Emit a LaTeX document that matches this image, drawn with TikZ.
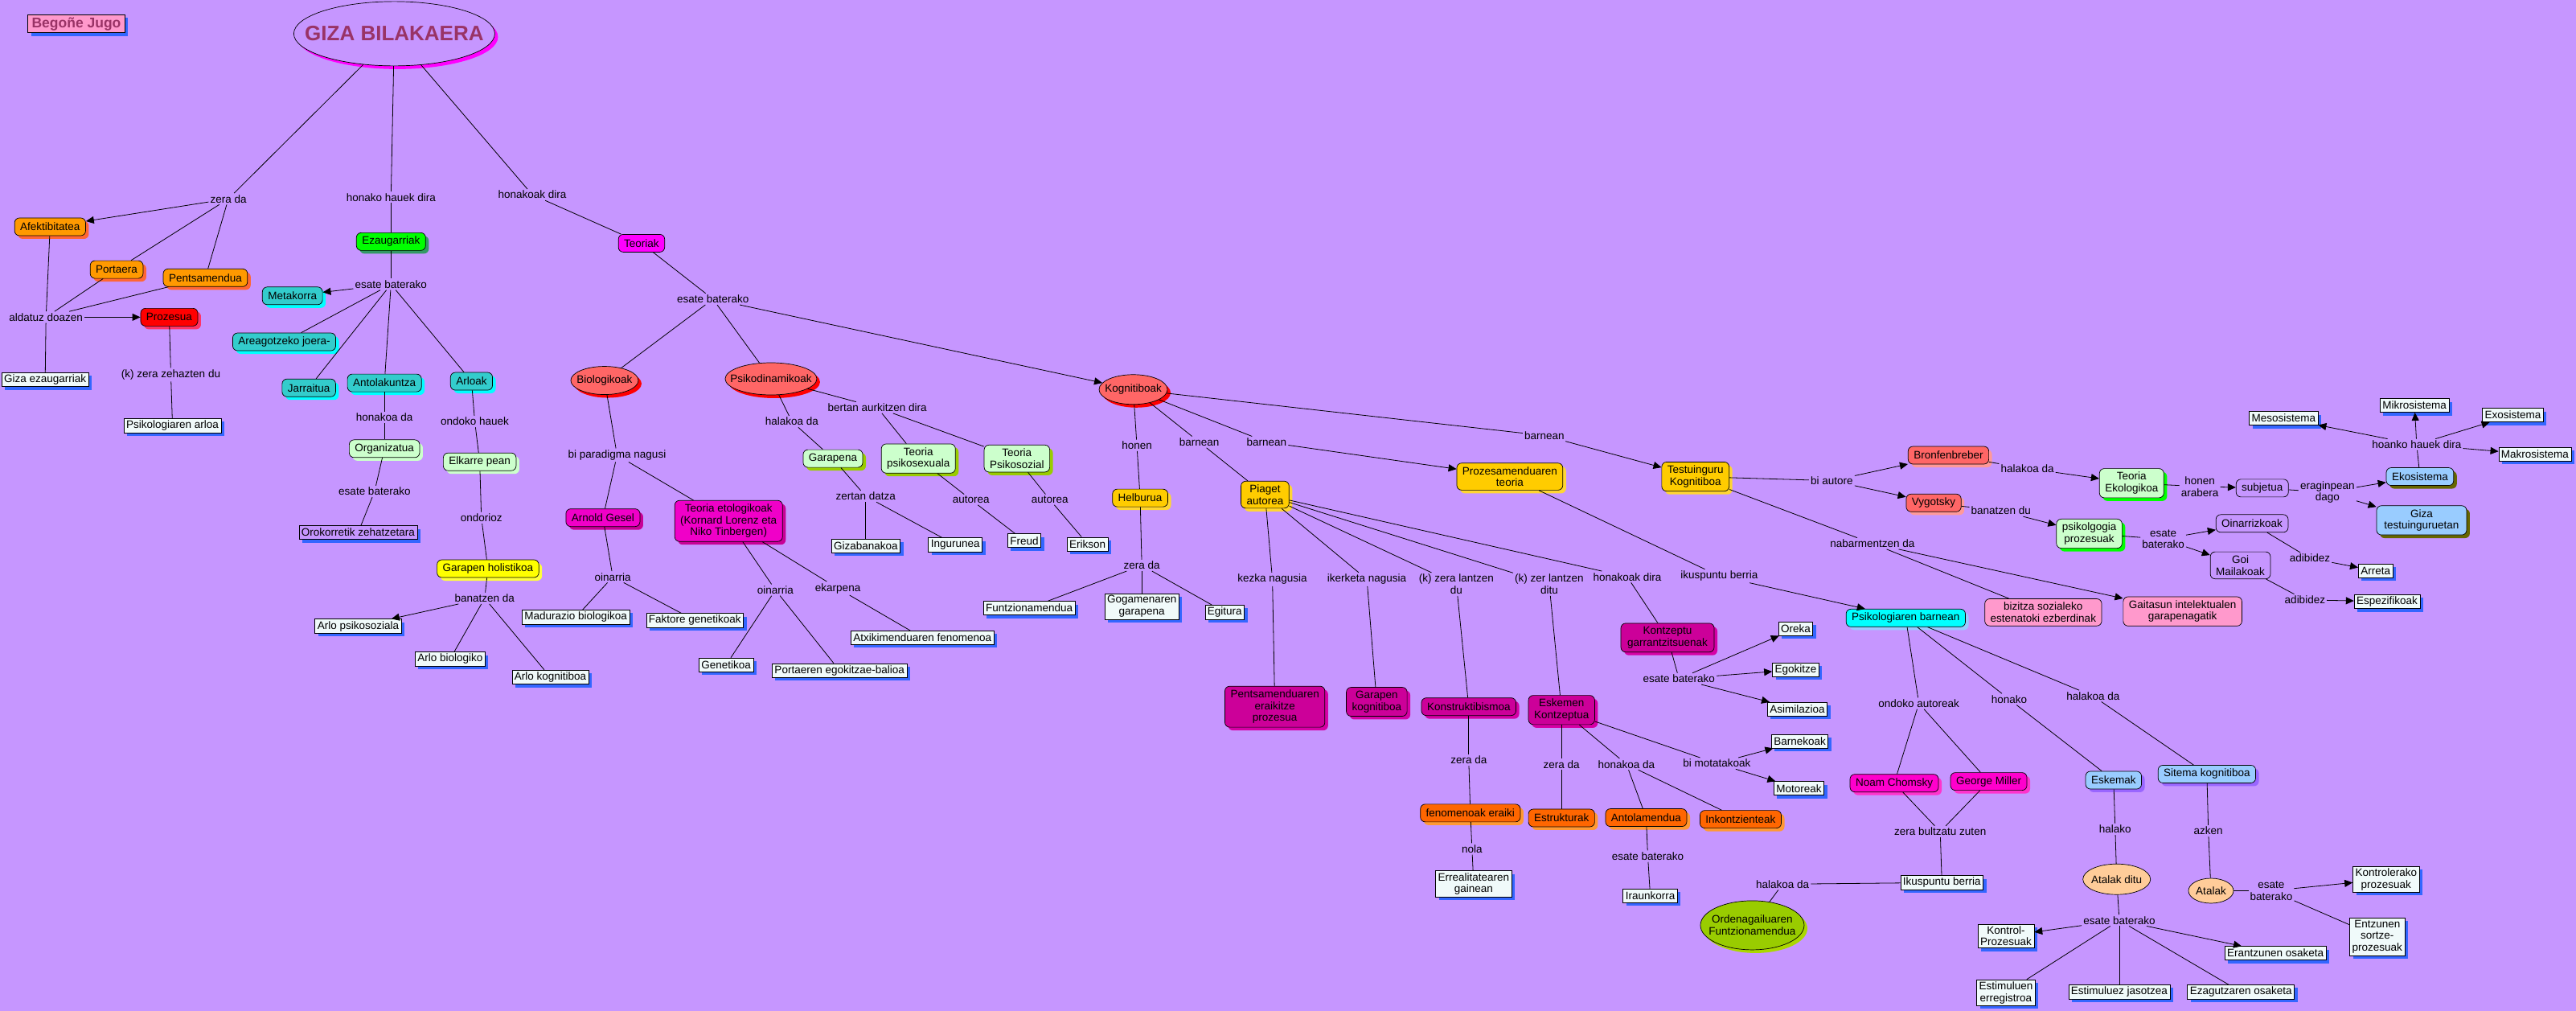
\documentclass[tikz,border=0pt]{standalone}
\usepackage{fontspec}
\setmainfont{Liberation Sans}
\usepackage{xcolor}
\usetikzlibrary{shapes.geometric,shadows,arrows.meta}

\definecolor{bgc}{RGB}{198,150,255}
\definecolor{titlec}{RGB}{153,51,102}
\definecolor{leaffill}{RGB}{240,250,250}
\definecolor{shblue}{RGB}{51,102,255}
\definecolor{orangec}{RGB}{255,153,0}
\definecolor{orangesh}{RGB}{255,102,51}
\definecolor{redc}{RGB}{255,0,0}
\definecolor{redsh}{RGB}{255,51,102}
\definecolor{greenc}{RGB}{0,255,0}
\definecolor{greensh}{RGB}{51,153,102}
\definecolor{tealc}{RGB}{51,204,204}
\definecolor{tealsh}{RGB}{0,255,255}
\definecolor{mintc}{RGB}{204,255,204}
\definecolor{yellowc}{RGB}{255,255,0}
\definecolor{yellowsh}{RGB}{255,255,60}
\definecolor{magc}{RGB}{255,0,255}
\definecolor{salmonc}{RGB}{255,102,102}
\definecolor{salmonsh}{RGB}{255,153,153}
\definecolor{pinkmag}{RGB}{240,0,200}
\definecolor{pinkmagsh}{RGB}{200,0,150}
\definecolor{limec}{RGB}{153,204,0}
\definecolor{limesh}{RGB}{170,215,0}
\definecolor{goldc}{RGB}{255,204,0}
\definecolor{goldsh}{RGB}{255,214,51}
\definecolor{plumc}{RGB}{204,0,153}
\definecolor{plumsh}{RGB}{214,0,165}
\definecolor{darkorc}{RGB}{255,102,0}
\definecolor{darkorsh}{RGB}{255,153,51}
\definecolor{cyanc}{RGB}{0,255,255}
\definecolor{skyc}{RGB}{153,204,255}
\definecolor{violetsh}{RGB}{153,102,255}
\definecolor{peachc}{RGB}{255,204,153}
\definecolor{rosec}{RGB}{255,153,204}
\definecolor{olivesh}{RGB}{102,102,0}
\definecolor{chomc}{RGB}{255,0,204}
\definecolor{chomsh}{RGB}{255,51,204}

\newcommand{\nfont}{\fontsize{13.5}{14.7}\selectfont}
\newcommand{\titlefont}{\fontsize{26}{30}\selectfont\bfseries}
\newcommand{\authfont}{\fontsize{17.5}{20}\selectfont\bfseries}

\begin{document}
\begin{tikzpicture}[
    x=2.0434pt, y=-2.0434pt,
    every node/.style={font=\nfont, align=center},
    cbox/.style 2 args={rectangle, draw=black, line width=0.7pt, fill=#1, rounded corners=6pt, inner xsep=7pt, inner ysep=4.5pt, minimum height=22pt, general shadow={fill=#2, shadow xshift=4pt, shadow yshift=-4pt}},
    flatbox/.style={rectangle, draw=black, line width=0.7pt, fill=#1, rounded corners=6pt, inner xsep=7pt, inner ysep=4.5pt, minimum height=22pt},
    leaf/.style={rectangle, draw=black, line width=0.7pt, fill=leaffill, inner xsep=3pt, inner ysep=2.5pt, minimum height=17pt, general shadow={fill=shblue, shadow xshift=4pt, shadow yshift=-4pt}},
    oval/.style 2 args={ellipse, draw=black, line width=0.7pt, fill=#1, inner sep=0pt, general shadow={fill=#2, shadow xshift=4pt, shadow yshift=-4pt}},
    plainoval/.style={ellipse, draw=black, line width=0.7pt, fill=#1, inner sep=0pt},
    phrase/.style={inner sep=2pt},
    link/.style={line width=0.8pt},
    arrow/.style={line width=0.8pt, -{Triangle[length=10pt,width=9pt]}}
]

% Background
\fill[bgc] (0,0) rectangle (1568,615);
\useasboundingbox (0,0) rectangle (1568,615);

% Title
\node[oval={bgc}{magc}, minimum width=250pt, minimum height=80pt, label={[font=\titlefont, text=titlec]center:GIZA BILAKAERA}] (giza) at (240,20.5) {};
\node[rectangle, draw=black, line width=0.7pt, fill=rosec, font=\authfont, text=titlec, inner xsep=5pt, inner ysep=3pt, general shadow={fill=shblue, shadow xshift=4pt, shadow yshift=-4pt}] (begone) at (46.5,14.5) {Begoñe Jugo};

\node[phrase] (pzera) at (139,121) {zera da};
\node[phrase] (phauek) at (238,120) {honako hauek dira};
\node[phrase] (phonakoak) at (324,118.5) {honakoak dira};

% Left branch
\node[cbox={orangec}{orangesh}] (afek) at (30.5,138) {Afektibitatea};
\node[cbox={orangec}{orangesh}] (port) at (71,164) {Portaera};
\node[cbox={orangec}{orangesh}] (pents) at (125,169) {Pentsamendua};
\node[cbox={redc}{redsh}] (proz) at (103,193) {Prozesua};
\node[phrase] (paldatuz) at (28,193) {aldatuz doazen};
\node[leaf] (gizaez) at (27.5,231) {Giza ezaugarriak};
\node[phrase] (pzehaz) at (104,228) {(k) zera zehazten du};
\node[leaf] (psiarlo) at (105,259) {Psikologiaren arloa};

% Ezaugarriak branch
\node[cbox={greenc}{greensh}] (ezaug) at (238,147) {Ezaugarriak};
\node[phrase] (pesate1) at (238,173) {esate baterako};
\node[cbox={tealc}{tealsh}] (metak) at (178,180) {Metakorra};
\node[cbox={tealc}{tealsh}] (areag) at (173,208) {Areagotzeko joera-};
\node[cbox={tealc}{tealsh}] (jarrai) at (188,236) {Jarraitua};
\node[cbox={tealc}{tealsh}] (antol) at (234,233) {Antolakuntza};
\node[cbox={tealc}{tealsh}] (arloak) at (287,232) {Arloak};
\node[phrase] (phonakoa) at (234,254) {honakoa da};
\node[cbox={mintc}{mintc}] (organ) at (234,273) {Organizatua};
\node[phrase] (pesate2) at (228,299) {esate baterako};
\node[leaf, fill=bgc] (orokor) at (218,324) {Orokorretik zehatzetara};
\node[phrase] (pondoko) at (289,256.5) {ondoko hauek};
\node[cbox={mintc}{mintc}] (elkarre) at (292,281) {Elkarre pean};
\node[phrase] (pondorioz) at (293,315) {ondorioz};
\node[cbox={yellowc}{yellowsh}] (holist) at (297,346) {Garapen holistikoa};
\node[phrase] (pbanatzen) at (295,364) {banatzen da};
\node[leaf] (arlopsi) at (218,381) {Arlo psikosoziala};
\node[leaf] (arlobio) at (274,401) {Arlo biologiko};
\node[leaf] (arlokog) at (335,412) {Arlo kognitiboa};

% Teoriak branch
\node[flatbox=magc] (teoriak) at (390.5,148) {Teoriak};
\node[phrase] (pesate3) at (434,182) {esate baterako};
\node[oval={salmonc}{redc}, minimum width=84pt, minimum height=35pt, label=center:Biologikoak] (biolog) at (368,231.5) {};
\node[oval={salmonc}{redc}, minimum width=114pt, minimum height=40pt, label=center:Psikodinamikoak] (psikod) at (469.3,230.5) {};
\node[oval={salmonc}{redc}, minimum width=85pt, minimum height=37pt, label=center:Kognitiboak] (kognit) at (689.8,237) {};

% Biologikoak
\node[phrase] (pparadigma) at (375.6,277) {bi paradigma nagusi};
\node[cbox={pinkmag}{pinkmagsh}] (arnold) at (367,315) {Arnold Gesel};
\node[cbox={pinkmag}{pinkmagsh}] (teoetol) at (443.5,317) {Teoria etologikoak\\(Kornard Lorenz eta\\Niko Tinbergen)};
\node[phrase] (poinarria1) at (373,351) {oinarria};
\node[leaf] (madur) at (350.5,375.5) {Madurazio biologikoa};
\node[leaf] (faktore) at (423,377.5) {Faktore genetikoak};
\node[phrase] (poinarria2) at (472,359) {oinarria};
\node[phrase] (pekarpena) at (510,358) {ekarpena};
\node[leaf] (genetik) at (442,404.5) {Genetikoa};
\node[leaf] (portaeren) at (511,408) {Portaeren egokitzae-balioa};
\node[leaf] (atxiki) at (561.5,388) {Atxikimenduaren fenomenoa};

% Psikodinamikoak
\node[phrase] (phalakoa1) at (482,256.5) {halakoa da};
\node[phrase] (pbertan) at (534,248) {bertan aurkitzen dira};
\node[cbox={mintc}{limec}] (garapena) at (507,279) {Garapena};
\node[cbox={mintc}{limec}] (psikosex) at (559,279) {Teoria\\psikosexuala};
\node[cbox={mintc}{limec}] (psikosoz) at (619,279) {Teoria\\Psikosozial};
\node[phrase] (pzertan) at (527,302) {zertan datza};
\node[leaf] (gizaban) at (527,332) {Gizabanakoa};
\node[leaf] (ingurune) at (581.5,331.5) {Ingurunea};
\node[phrase] (pautorea1) at (591,304) {autorea};
\node[leaf] (freud) at (623.5,329) {Freud};
\node[phrase] (pautorea2) at (639,304) {autorea};
\node[leaf] (erikson) at (662,331) {Erikson};

% Kognitiboak
\node[phrase] (phonen) at (692,271) {honen};
\node[phrase] (pbarnean1) at (730,269) {barnean};
\node[phrase] (pbarnean2) at (771,269) {barnean};
\node[phrase] (pbarnean3) at (940,265) {barnean};
\node[cbox={goldc}{goldsh}] (helburua) at (694,303) {Helburua};
\node[cbox={goldc}{goldsh}] (piaget) at (770,301) {Piaget\\autorea};
\node[cbox={goldc}{goldsh}] (prozteoria) at (919,290) {Prozesamenduaren\\teoria};
\node[cbox={goldc}{goldsh}] (testuing) at (1032,290) {Testuinguru\\Kognitiboa};
\node[phrase] (pzerada2) at (695,344) {zera da};
\node[leaf] (funtzio) at (626.5,370) {Funtzionamendua};
\node[leaf] (gogamen) at (695,369) {Gogamenaren\\garapena};
\node[leaf] (egitura) at (745.5,372.5) {Egitura};

% Piaget
\node[phrase] (pkezka) at (774.5,352.5) {kezka nagusia};
\node[phrase] (pikerketa) at (832,352.5) {ikerketa nagusia};
\node[phrase] (pzeralantzen) at (886.5,355.5) {(k) zera lantzen\\du};
\node[phrase] (pzerlantzen) at (943,355.5) {(k) zer lantzen\\ditu};
\node[phrase] (phonakoak2) at (990.5,351) {honakoak dira};
\node[phrase] (pikuspuntu) at (1046.5,350.5) {ikuspuntu berria};
\node[cbox={plumc}{plumsh}, minimum width=124pt] (pentseraik) at (776,430) {Pentsamenduaren\\eraikitze\\prozesua};
\node[cbox={plumc}{plumsh}] (garkog) at (838,427) {Garapen\\kognitiboa};
\node[cbox={plumc}{plumsh}] (konstruk) at (894,430) {Konstruktibismoa};
\node[cbox={plumc}{plumsh}] (eskemen) at (950.5,432) {Eskemen\\Kontzeptua};
\node[cbox={plumc}{plumsh}, minimum width=116pt] (kontzeptu) at (1015,388) {Kontzeptu\\garrantzitsuenak};
\node[phrase] (pesate4) at (1022,413) {esate baterako};
\node[leaf] (oreka) at (1093,382.5) {Oreka};
\node[leaf] (egokitze) at (1093,407.5) {Egokitze};
\node[leaf] (asimil) at (1094,431.5) {Asimilazioa};
\node[phrase] (pzerada3) at (894,462.5) {zera da};
\node[cbox={darkorc}{darkorsh}] (fenomen) at (895,494.7) {fenomenoak eraiki};
\node[phrase] (pnola) at (896,516.5) {nola};
\node[leaf] (erreal) at (897,537.8) {Errealitatearen\\gainean};
\node[phrase] (pzerada4) at (950.5,465) {zera da};
\node[cbox={darkorc}{darkorsh}] (estruk) at (950.5,497.7) {Estrukturak};
\node[phrase] (phonakoa2) at (990,465) {honakoa da};
\node[cbox={darkorc}{darkorsh}] (antolam) at (1002,497.5) {Antolamendua};
\node[cbox={darkorc}{darkorsh}] (inkontz) at (1059.5,498.5) {Inkontzienteak};
\node[phrase] (pmotatakoak) at (1045,464.5) {bi motatakoak};
\node[leaf] (barnekoak) at (1095.5,451) {Barnekoak};
\node[leaf] (motoreak) at (1095,479.7) {Motoreak};
\node[phrase] (pesate5) at (1003,521) {esate baterako};
\node[leaf] (iraunk) at (1004.5,545) {Iraunkorra};

% Psikologiaren barnean
\node[cbox={cyanc}{skyc}] (psibarnean) at (1160,376) {Psikologiaren barnean};
\node[phrase] (pondokoaut) at (1168,428) {ondoko autoreak};
\node[phrase] (phonako) at (1223,425.5) {honako};
\node[phrase] (phalakoa2) at (1274,423.5) {halakoa da};
\node[cbox={chomc}{chomsh}] (chomsky) at (1153,476.5) {Noam Chomsky};
\node[cbox={chomc}{chomsh}] (miller) at (1210.5,475.5) {George Miller};
\node[phrase] (pbultzatu) at (1181,506) {zera bultzatu zuten};
\node[leaf] (ikusberria) at (1182,537) {Ikuspuntu berria};
\node[phrase] (phalakoa3) at (1085,538) {halakoa da};
\node[oval={limec}{limesh}, minimum width=129pt, minimum height=61pt, label=center:{Ordenagailuaren\\Funtzionamendua}] (ordenag) at (1066.6,563) {};
\node[cbox={skyc}{violetsh}] (eskemak) at (1286.5,474.7) {Eskemak};
\node[cbox={skyc}{violetsh}] (sitema) at (1343.3,471) {Sitema kognitiboa};
\node[phrase] (phalako) at (1287.5,504.5) {halako};
\node[phrase] (pazken) at (1344.2,505.5) {azken};
\node[plainoval=peachc, minimum width=84pt, minimum height=38pt, label=center:Atalak ditu] (ataladitu) at (1288.4,535) {};
\node[plainoval=peachc, minimum width=56pt, minimum height=31pt, label=center:Atalak] (atalak) at (1345.8,542) {};
\node[phrase] (pesate6) at (1290,560) {esate baterako};
\node[phrase] (pesate7) at (1382.5,542) {esate\\baterako};
\node[leaf] (kontrolpro) at (1452.4,535) {Kontrolerako\\prozesuak};
\node[leaf] (entzunen) at (1447,570) {Entzunen\\sortze-\\prozesuak};
\node[leaf] (kontrolp) at (1221,569.5) {Kontrol-\\Prozesuak};
\node[leaf] (estimerreg) at (1221,604) {Estimuluen\\erregistroa};
\node[leaf] (estimjas) at (1290,603.5) {Estimuluez jasotzea};
\node[leaf] (ezagutz) at (1364,603.5) {Ezagutzaren osaketa};
\node[leaf] (erantz) at (1385,580) {Erantzunen osaketa};

% Testuinguru Kognitiboa
\node[phrase] (pbiautore) at (1115,292.5) {bi autore};
\node[cbox={salmonc}{salmonsh}] (bronf) at (1186,277) {Bronfenbreber};
\node[cbox={salmonc}{salmonsh}] (vygot) at (1177,306) {Vygotsky};
\node[phrase] (phalakoa4) at (1234,285) {halakoa da};
\node[cbox={mintc}{greenc}] (ekolog) at (1297.5,294) {Teoria\\Ekologikoa};
\node[phrase] (phonenarabera) at (1339,296) {honen\\arabera};
\node[flatbox=bgc] (subjetua) at (1377,297) {subjetua};
\node[phrase] (peraginpean) at (1416.7,299.5) {eraginpean\\dago};
\node[cbox={skyc}{olivesh}] (ekosist) at (1473,290) {Ekosistema};
\node[cbox={skyc}{olivesh}, minimum width=112pt] (gizatest) at (1474,316.6) {Giza\\testuinguruetan};
\node[phrase] (phoanko) at (1471,270.5) {hoanko hauek dira};
\node[leaf] (meso) at (1390,254.5) {Mesosistema};
\node[leaf] (mikro) at (1469.7,246.7) {Mikrosistema};
\node[leaf] (exo) at (1529.6,252.6) {Exosistema};
\node[leaf] (makro) at (1543,276.5) {Makrosistema};
\node[phrase] (pbanatzendu) at (1218,310.8) {banatzen du};
\node[cbox={mintc}{greenc}] (psikproz) at (1271.7,324.7) {psikolgogia\\prozesuak};
\node[phrase] (pesate8) at (1316.7,328) {esate\\baterako};
\node[flatbox=bgc] (oinarriz) at (1370.8,318.5) {Oinarrizkoak};
\node[flatbox=bgc] (goimail) at (1363.7,344) {Goi\\Mailakoak};
\node[phrase] (padibidez1) at (1406,339.7) {adibidez};
\node[leaf] (arreta) at (1446,347.3) {Arreta};
\node[phrase] (padibidez2) at (1403,365) {adibidez};
\node[leaf] (espezif) at (1453,366) {Espezifikoak};
\node[phrase] (pnabarmen) at (1139.7,330.7) {nabarmentzen da};
\node[flatbox=rosec] (bizitza) at (1243.7,372.6) {bizitza sozialeko\\estenatoki ezberdinak};
\node[flatbox=rosec] (gaitasun) at (1328.5,372) {Gaitasun intelektualen\\garapenagatik};

% Connectors
\draw[link] (giza) -- (pzera);
\draw[link] (giza) -- (phauek);
\draw[link] (giza) -- (phonakoak);
\draw[arrow] (pzera) -- (afek);
\draw[link] (pzera) -- (port);
\draw[link] (pzera) -- (pents);
\draw[link] (afek) -- (paldatuz);
\draw[link] (port) -- (paldatuz);
\draw[link] (pents) -- (paldatuz);
\draw[arrow] (paldatuz) -- (proz);
\draw[link] (paldatuz) -- (gizaez);
\draw[link] (proz) -- (pzehaz);
\draw[link] (pzehaz) -- (psiarlo);

\draw[link] (phauek) -- (ezaug);
\draw[link] (ezaug) -- (pesate1);
\draw[arrow] (pesate1) -- (metak);
\draw[link] (pesate1) -- (areag);
\draw[link] (pesate1) -- (jarrai);
\draw[link] (pesate1) -- (antol);
\draw[link] (pesate1) -- (arloak);
\draw[link] (antol) -- (phonakoa);
\draw[link] (phonakoa) -- (organ);
\draw[link] (organ) -- (pesate2);
\draw[link] (pesate2) -- (orokor);
\draw[link] (arloak) -- (pondoko);
\draw[link] (pondoko) -- (elkarre);
\draw[link] (elkarre) -- (pondorioz);
\draw[link] (pondorioz) -- (holist);
\draw[link] (holist) -- (pbanatzen);
\draw[arrow] (pbanatzen) -- (arlopsi);
\draw[link] (pbanatzen) -- (arlobio);
\draw[link] (pbanatzen) -- (arlokog);

\draw[link] (phonakoak) -- (teoriak);
\draw[link] (teoriak) -- (pesate3);
\draw[link] (pesate3) -- (biolog);
\draw[link] (pesate3) -- (psikod);
\draw[arrow] (pesate3) -- (kognit);

\draw[link] (biolog) -- (pparadigma);
\draw[link] (pparadigma) -- (arnold);
\draw[link] (pparadigma) -- (teoetol);
\draw[link] (arnold) -- (poinarria1);
\draw[link] (poinarria1) -- (madur);
\draw[link] (poinarria1) -- (faktore);
\draw[link] (teoetol) -- (poinarria2);
\draw[link] (poinarria2) -- (genetik);
\draw[link] (poinarria2) -- (portaeren);
\draw[link] (teoetol) -- (pekarpena);
\draw[link] (pekarpena) -- (atxiki);

\draw[link] (psikod) -- (phalakoa1);
\draw[link] (phalakoa1) -- (garapena);
\draw[link] (psikod) -- (pbertan);
\draw[link] (pbertan) -- (psikosex);
\draw[link] (pbertan) -- (psikosoz);
\draw[link] (garapena) -- (pzertan);
\draw[link] (pzertan) -- (gizaban);
\draw[link] (pzertan) -- (ingurune);
\draw[link] (psikosex) -- (pautorea1);
\draw[link] (pautorea1) -- (freud);
\draw[link] (psikosoz) -- (pautorea2);
\draw[link] (pautorea2) -- (erikson);

\draw[link] (kognit) -- (phonen);
\draw[link] (phonen) -- (helburua);
\draw[link] (kognit) -- (pbarnean1);
\draw[link] (pbarnean1) -- (piaget);
\draw[link] (kognit) -- (pbarnean2);
\draw[arrow] (pbarnean2) -- (prozteoria);
\draw[link] (kognit) -- (pbarnean3);
\draw[arrow] (pbarnean3) -- (testuing);
\draw[link] (helburua) -- (pzerada2);
\draw[link] (pzerada2) -- (funtzio);
\draw[link] (pzerada2) -- (gogamen);
\draw[link] (pzerada2) -- (egitura);

\draw[link] (piaget) -- (pkezka);
\draw[link] (piaget) -- (pikerketa);
\draw[link] (piaget) -- (pzeralantzen);
\draw[link] (piaget) -- (pzerlantzen);
\draw[link] (piaget) -- (phonakoak2);
\draw[link] (pkezka) -- (pentseraik);
\draw[link] (pikerketa) -- (garkog);
\draw[link] (pzeralantzen) -- (konstruk);
\draw[link] (pzerlantzen) -- (eskemen);
\draw[link] (phonakoak2) -- (kontzeptu);
\draw[link] (prozteoria) -- (pikuspuntu);
\draw[arrow] (pikuspuntu) -- (psibarnean);

\draw[link] (kontzeptu) -- (pesate4);
\draw[arrow] (pesate4) -- (oreka);
\draw[arrow] (pesate4) -- (egokitze);
\draw[arrow] (pesate4) -- (asimil);
\draw[link] (konstruk) -- (pzerada3);
\draw[link] (pzerada3) -- (fenomen);
\draw[link] (fenomen) -- (pnola);
\draw[link] (pnola) -- (erreal);
\draw[link] (eskemen) -- (pzerada4);
\draw[link] (pzerada4) -- (estruk);
\draw[link] (eskemen) -- (phonakoa2);
\draw[link] (phonakoa2) -- (antolam);
\draw[link] (phonakoa2) -- (inkontz);
\draw[link] (eskemen) -- (pmotatakoak);
\draw[arrow] (pmotatakoak) -- (barnekoak);
\draw[arrow] (pmotatakoak) -- (motoreak);
\draw[link] (antolam) -- (pesate5);
\draw[link] (pesate5) -- (iraunk);

\draw[link] (psibarnean) -- (pondokoaut);
\draw[link] (psibarnean) -- (phonako);
\draw[link] (psibarnean) -- (phalakoa2);
\draw[link] (pondokoaut) -- (chomsky);
\draw[link] (pondokoaut) -- (miller);
\draw[link] (chomsky) -- (pbultzatu);
\draw[link] (miller) -- (pbultzatu);
\draw[link] (pbultzatu) -- (ikusberria);
\draw[link] (ikusberria) -- (phalakoa3);
\draw[link] (phalakoa3) -- (ordenag);
\draw[link] (phonako) -- (eskemak);
\draw[link] (eskemak) -- (phalako);
\draw[link] (phalako) -- (ataladitu);
\draw[link] (ataladitu) -- (pesate6);
\draw[arrow] (pesate6) -- (kontrolp);
\draw[link] (pesate6) -- (estimerreg);
\draw[link] (pesate6) -- (estimjas);
\draw[link] (pesate6) -- (ezagutz);
\draw[arrow] (pesate6) -- (erantz);
\draw[link] (phalakoa2) -- (sitema);
\draw[link] (sitema) -- (pazken);
\draw[link] (pazken) -- (atalak);
\draw[link] (atalak) -- (pesate7);
\draw[arrow] (pesate7) -- (kontrolpro);
\draw[link] (pesate7) -- (entzunen);

\draw[link] (testuing) -- (pbiautore);
\draw[arrow] (pbiautore) -- (bronf);
\draw[arrow] (pbiautore) -- (vygot);
\draw[link] (bronf) -- (phalakoa4);
\draw[arrow] (phalakoa4) -- (ekolog);
\draw[link] (ekolog) -- (phonenarabera);
\draw[arrow] (phonenarabera) -- (subjetua);
\draw[link] (subjetua) -- (peraginpean);
\draw[arrow] (peraginpean) -- (ekosist);
\draw[arrow] (peraginpean) -- (gizatest);
\draw[link] (ekosist) -- (phoanko);
\draw[arrow] (phoanko) -- (meso);
\draw[arrow] (phoanko) -- (mikro);
\draw[arrow] (phoanko) -- (exo);
\draw[arrow] (phoanko) -- (makro);
\draw[link] (vygot) -- (pbanatzendu);
\draw[arrow] (pbanatzendu) -- (psikproz);
\draw[link] (psikproz) -- (pesate8);
\draw[arrow] (pesate8) -- (oinarriz);
\draw[arrow] (pesate8) -- (goimail);
\draw[link] (oinarriz) -- (padibidez1);
\draw[arrow] (padibidez1) -- (arreta);
\draw[link] (goimail) -- (padibidez2);
\draw[arrow] (padibidez2) -- (espezif);
\draw[link] (testuing) -- (pnabarmen);
\draw[link] (pnabarmen) -- (bizitza);
\draw[arrow] (pnabarmen) -- (gaitasun);

\end{tikzpicture}
\end{document}
